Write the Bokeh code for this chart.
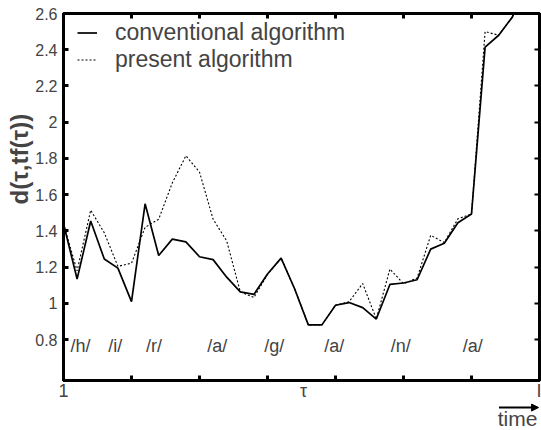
from bokeh.plotting import figure
from bokeh.layouts import column
from bokeh.models import (Range1d, FixedTicker, Legend, LegendItem, Label,
                          Arrow, NormalHead, LinearAxis, Title)
from bokeh.embed import file_html
from bokeh.resources import INLINE

# ---- data ----
frame_idx = list(range(36))
conventional = [1.44, 1.135, 1.455, 1.245, 1.195, 1.01, 1.55, 1.265, 1.355, 1.34,
                1.258, 1.242, 1.145, 1.064, 1.05, 1.163, 1.25, 1.08, 0.882, 0.882,
                0.99, 1.005, 0.977, 0.914, 1.105, 1.113, 1.131, 1.30, 1.332, 1.445,
                1.494, 2.415, 2.48, 2.58, 2.75, 2.9]
present = [1.44, 1.18, 1.515, 1.39, 1.205, 1.222, 1.42, 1.465, 1.665, 1.815,
           1.725, 1.465, 1.345, 1.064, 1.033, 1.16, 1.25, 1.08, 0.882, 0.882,
           0.99, 1.01, 1.11, 0.914, 1.19, 1.109, 1.14, 1.376, 1.336, 1.467,
           1.494, 2.50, 2.48, 2.58, 2.75, 2.9]
phonemes = ["/h/", "/i/", "/r/", "/a/", "/g/", "/a/", "/n/", "/a/"]
phoneme_x = [1.25, 3.8, 6.65, 11.3, 15.5, 19.9, 24.8, 30.1]
y_ticks = [0.8, 1.0, 1.2, 1.4, 1.6, 1.8, 2.0, 2.2, 2.4, 2.6]
y_tick_labels = ["0.8", "1", "1.2", "1.4", "1.6", "1.8", "2", "2.2", "2.4", "2.6"]
x_minor_ticks = [0, 5, 10, 15, 20, 25, 30, 35]
x_label_ticks = [0, 17.65, 35]
x_tick_labels = ["1", "τ", "I"]
series_names = ["conventional algorithm", "present algorithm"]
y_title = "d(τ,tf(τ))"
time_title = "time"

FONT = "Liberation Sans"
X0, X1 = 0, 35
FRAME_L, FRAME_R, W = 63, 2, 541

p = figure(width=W, height=403, output_backend="svg", toolbar_location=None,
           x_range=Range1d(X0, X1), y_range=Range1d(0.575, 2.6),
           min_border_left=FRAME_L, min_border_right=FRAME_R, min_border_top=13,
           min_border_bottom=20)
p.grid.visible = False
p.outline_line_color = "black"
p.outline_line_width = 3
p.background_fill_color = "white"
p.border_fill_color = "white"

r1 = p.line(frame_idx, conventional, line_color="black", line_width=1.7)
r2 = p.line(frame_idx, present, line_color="black", line_width=1.1, line_dash="2 2")

# bottom axis: labels "1", "τ", "I"; inward minor ticks every 5 frames
xa = p.xaxis[0]
xa.ticker = FixedTicker(ticks=x_label_ticks, minor_ticks=x_minor_ticks)
xa.major_label_overrides = {t: l for t, l in zip(x_label_ticks, x_tick_labels)}
xa.major_tick_line_color = None
xa.major_tick_in = 0
xa.major_tick_out = 0
xa.minor_tick_in = 5
xa.minor_tick_out = 0
xa.minor_tick_line_width = 3
xa.axis_line_width = 3
xa.major_label_text_font = FONT
xa.major_label_text_font_size = "18px"
xa.major_label_standoff = 0

ya = p.yaxis[0]
ya.ticker = FixedTicker(ticks=y_ticks)
ya.major_label_overrides = {t: l for t, l in zip(y_ticks, y_tick_labels)}
ya.axis_line_width = 3
ya.major_tick_in = 5
ya.major_tick_out = 0
ya.major_tick_line_width = 3
ya.minor_tick_line_color = None
ya.major_label_text_font = FONT
ya.major_label_text_font_size = "16px"
ya.major_label_standoff = 6

top_ax = LinearAxis(ticker=FixedTicker(ticks=[], minor_ticks=x_minor_ticks),
                    minor_tick_in=5, minor_tick_out=0, minor_tick_line_width=3,
                    axis_line_color=None, major_label_standoff=0,
                    major_tick_out=0)
right_ax = LinearAxis(ticker=FixedTicker(ticks=[], minor_ticks=y_ticks),
                      minor_tick_in=5, minor_tick_out=0, minor_tick_line_width=2,
                      axis_line_color=None, major_label_standoff=0,
                      major_tick_out=0)
p.add_layout(top_ax, "above")
p.add_layout(right_ax, "right")

# y title (rotated, on the left)
p.add_layout(Title(text=y_title, align="left", offset=176, standoff=0,
                   text_font=FONT, text_font_size="24px", text_font_style="bold"),
             "left")

# legend
legend = Legend(items=[LegendItem(label=series_names[0], renderers=[r1]),
                       LegendItem(label=series_names[1], renderers=[r2])],
                location=(14, 307), margin=0, padding=0, spacing=0,
                border_line_color=None, background_fill_alpha=0,
                label_text_font=FONT, label_text_font_size="23px",
                glyph_width=20, glyph_height=25, label_height=25,
                label_standoff=18)
p.add_layout(legend)

# phoneme labels
for name, px in zip(phonemes, phoneme_x):
    p.add_layout(Label(x=px, y=0.7655, text=name, text_font=FONT,
                       text_font_size="18px", text_align="center",
                       text_baseline="middle"))

# footer strip with the "time" arrow, sharing the horizontal scale
scale = (X1 - X0) / (W - FRAME_L - FRAME_R)
foot = figure(width=W, height=27, output_backend="svg", toolbar_location=None,
              x_range=Range1d(X0 - FRAME_L * scale, X1 + FRAME_R * scale),
              y_range=Range1d(0, 1), x_axis_type=None, y_axis_type=None,
              min_border=0, min_border_left=0, min_border_right=0,
              min_border_top=0, min_border_bottom=0)
foot.grid.visible = False
foot.outline_line_color = None
foot.add_layout(Arrow(end=NormalHead(size=7, fill_color="black", line_color="black"),
                      x_start=31.76, y_start=0.85, x_end=35.07, y_end=0.85,
                      line_width=2, line_color="black"))
foot.add_layout(Label(x=34.97, y=0.45, text=time_title, text_font=FONT,
                      text_font_size="21px", text_align="right",
                      text_baseline="middle"))

layout = column(p, foot, spacing=0)
open("out.html", "w").write(file_html(layout, INLINE))
